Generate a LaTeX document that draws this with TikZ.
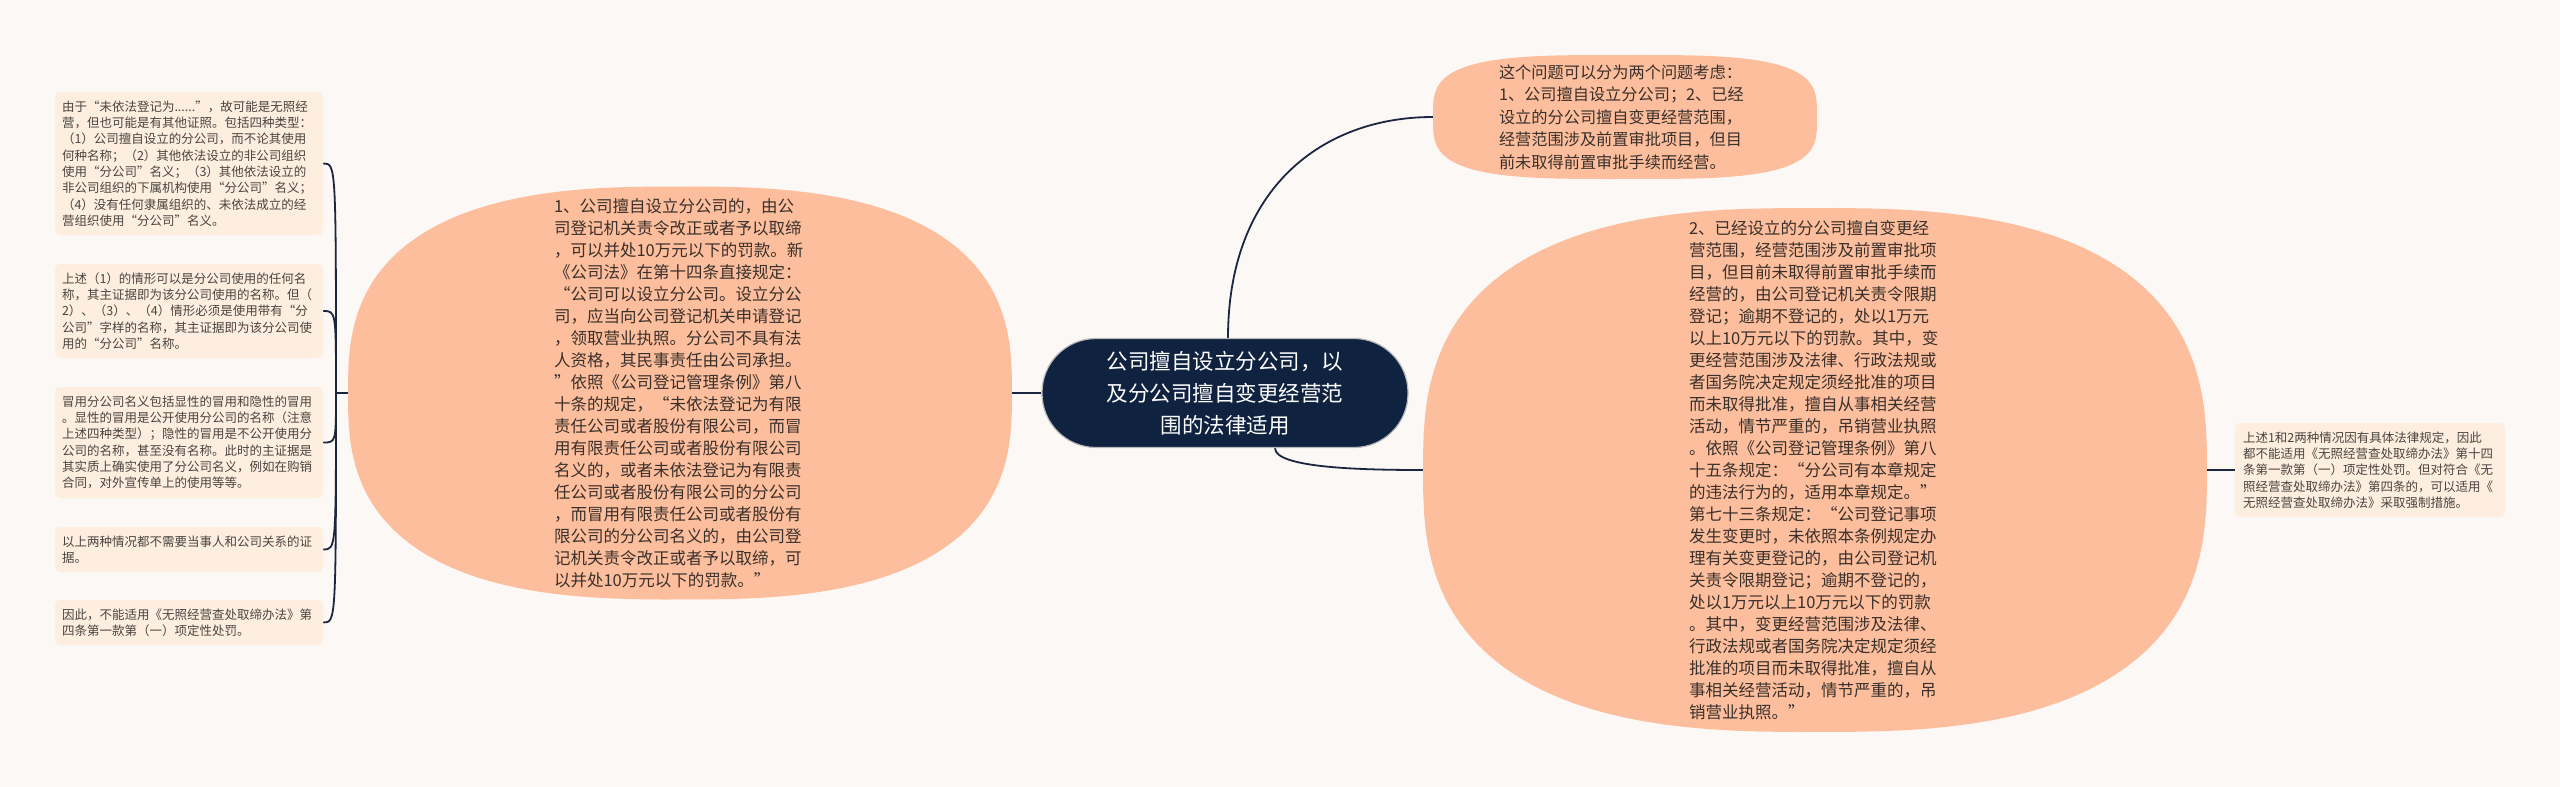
\documentclass[tikz,border=0pt]{standalone}
\usepackage{fontspec}
\setmainfont{Noto Sans CJK SC}
\definecolor{bg}{HTML}{FCF8F6}
\definecolor{peach}{HTML}{FCBE9C}
\definecolor{cream}{HTML}{FDEEDF}
\definecolor{navy}{HTML}{0F2240}
\definecolor{ink}{HTML}{3A302B}
\definecolor{boxink}{HTML}{4A4440}
\definecolor{linec}{HTML}{1B2740}
\pgfdeclarelayer{bgl}
\pgfdeclarelayer{lines}
\pgfsetlayers{bgl,lines,main}
\newcommand{\superell}[6]{\fill[#6] plot[domain=1:361,samples=121,variable=\t] ({#1+#3*sign(cos(\t))*abs(cos(\t))^(2/#5)},{#2+#4*sign(sin(\t))*abs(sin(\t))^(2/#5)}) -- cycle;}
\begin{document}
\begin{tikzpicture}[x=1pt,y=-1pt,
  conn/.style={draw=linec, line width=1.8pt},
  bigtxt/.style={inner sep=0pt, text width=252, align=left, text=ink, font=\fontsize{16.5}{22}\selectfont},
  toptxt/.style={inner sep=0pt, text width=252, align=left, text=ink, font=\fontsize{16.2}{22.5}\selectfont},
  infobox/.style={rectangle, rounded corners=5, fill=cream, text=boxink, align=left, text width=254, inner xsep=7, inner ysep=5, font=\fontsize{12.5}{16.3}\selectfont},
  rootnode/.style={rectangle, rounded corners=54, fill=navy, draw=gray!55, line width=1.2pt, text=white, align=center, minimum width=366, minimum height=109, inner sep=0pt, font=\fontsize{21.5}{32}\selectfont}]
\begin{pgfonlayer}{bgl}
\fill[bg] (0,0) rectangle (2560,787);
\end{pgfonlayer}
\useasboundingbox (0,0) rectangle (2560,787);

% shapes
\superell{680}{393}{332}{206.5}{2.7}{peach}
\superell{1815}{470}{392}{262}{2.7}{peach}
\superell{1625}{117}{192}{62}{3.5}{peach}

% root
\node[rootnode] (C) at (1225,393) {公司擅自设立分公司，以\\及分公司擅自变更经营范\\围的法律适用};

% left ellipse
\node[bigtxt, minimum width=664, minimum height=413] (L) at (680,393) {1、公司擅自设立分公司的，由公\\司登记机关责令改正或者予以取缔\\，可以并处10万元以下的罚款。新\\《公司法》在第十四条直接规定：\\“公司可以设立分公司。设立分公\\司，应当向公司登记机关申请登记\\，领取营业执照。分公司不具有法\\人资格，其民事责任由公司承担。\\”依照《公司登记管理条例》第八\\十条的规定，“未依法登记为有限\\责任公司或者股份有限公司，而冒\\用有限责任公司或者股份有限公司\\名义的，或者未依法登记为有限责\\任公司或者股份有限公司的分公司\\，而冒用有限责任公司或者股份有\\限公司的分公司名义的，由公司登\\记机关责令改正或者予以取缔，可\\以并处10万元以下的罚款。”};

% top right ellipse
\node[toptxt, minimum width=384, minimum height=124] (T) at (1625,117) {这个问题可以分为两个问题考虑：\\1、公司擅自设立分公司；2、已经\\设立的分公司擅自变更经营范围，\\经营范围涉及前置审批项目，但目\\前未取得前置审批手续而经营。};

% right ellipse
\node[bigtxt, minimum width=784, minimum height=524] (R) at (1815,470) {2、已经设立的分公司擅自变更经\\营范围，经营范围涉及前置审批项\\目，但目前未取得前置审批手续而\\经营的，由公司登记机关责令限期\\登记；逾期不登记的，处以1万元\\以上10万元以下的罚款。其中，变\\更经营范围涉及法律、行政法规或\\者国务院决定规定须经批准的项目\\而未取得批准，擅自从事相关经营\\活动，情节严重的，吊销营业执照\\。依照《公司登记管理条例》第八\\十五条规定：“分公司有本章规定\\的违法行为的，适用本章规定。”\\第七十三条规定：“公司登记事项\\发生变更时，未依照本条例规定办\\理有关变更登记的，由公司登记机\\关责令限期登记；逾期不登记的，\\处以1万元以上10万元以下的罚款\\。其中，变更经营范围涉及法律、\\行政法规或者国务院决定规定须经\\批准的项目而未取得批准，擅自从\\事相关经营活动，情节严重的，吊\\销营业执照。”};

% far right box
\node[infobox, text width=254, inner xsep=8, minimum height=94] (F) at (2370,470) {上述1和2两种情况因有具体法律规定，因此\\都不能适用《无照经营查处取缔办法》第十四\\条第一款第（一）项定性处罚。但对符合《无\\照经营查处取缔办法》第四条的，可以适用《\\无照经营查处取缔办法》采取强制措施。};

% left boxes
\node[infobox, minimum height=143] (B1) at (189,163.5) {由于“未依法登记为......”，故可能是无照经\\营，但也可能是有其他证照。包括四种类型：\\（1）公司擅自设立的分公司，而不论其使用\\何种名称；（2）其他依法设立的非公司组织\\使用“分公司”名义；（3）其他依法设立的\\非公司组织的下属机构使用“分公司”名义；\\（4）没有任何隶属组织的、未依法成立的经\\营组织使用“分公司”名义。};
\node[infobox, minimum height=94] (B2) at (189,311) {上述（1）的情形可以是分公司使用的任何名\\称，其主证据即为该分公司使用的名称。但（\\2）、（3）、（4）情形必须是使用带有“分\\公司”字样的名称，其主证据即为该分公司使\\用的“分公司”名称。};
\node[infobox, minimum height=111] (B3) at (189,442.5) {冒用分公司名义包括显性的冒用和隐性的冒用\\。显性的冒用是公开使用分公司的名称（注意\\上述四种类型）；隐性的冒用是不公开使用分\\公司的名称，甚至没有名称。此时的主证据是\\其实质上确实使用了分公司名义，例如在购销\\合同，对外宣传单上的使用等等。};
\node[infobox, minimum height=45] (B4) at (189,549.5) {以上两种情况都不需要当事人和公司关系的证\\据。};
\node[infobox, minimum height=45] (B5) at (189,622.5) {因此，不能适用《无照经营查处取缔办法》第\\四条第一款第（一）项定性处罚。};

\coordinate (J) at (336,393);

\begin{pgfonlayer}{lines}
\draw[conn] (C.west) -- (L.east);
\draw[conn] ([xshift=3]C.north) .. controls +(0,-150) and +(-110,0) .. (T.west);
\draw[conn] ([xshift=50]C.south) .. controls +(0,20) and +(-60,0) .. (R.west);
\draw[conn] (R.east) -- (F.west);
\draw[conn] (J) -- (L.west);
\draw[conn] (J) .. controls (J |- B1.east) .. (B1.east);
\draw[conn] (J) .. controls (J |- B2.east) .. (B2.east);
\draw[conn] (J) .. controls (J |- B3.east) .. (B3.east);
\draw[conn] (J) .. controls (J |- B4.east) .. (B4.east);
\draw[conn] (J) .. controls (J |- B5.east) .. (B5.east);
\end{pgfonlayer}
\end{tikzpicture}
\end{document}
